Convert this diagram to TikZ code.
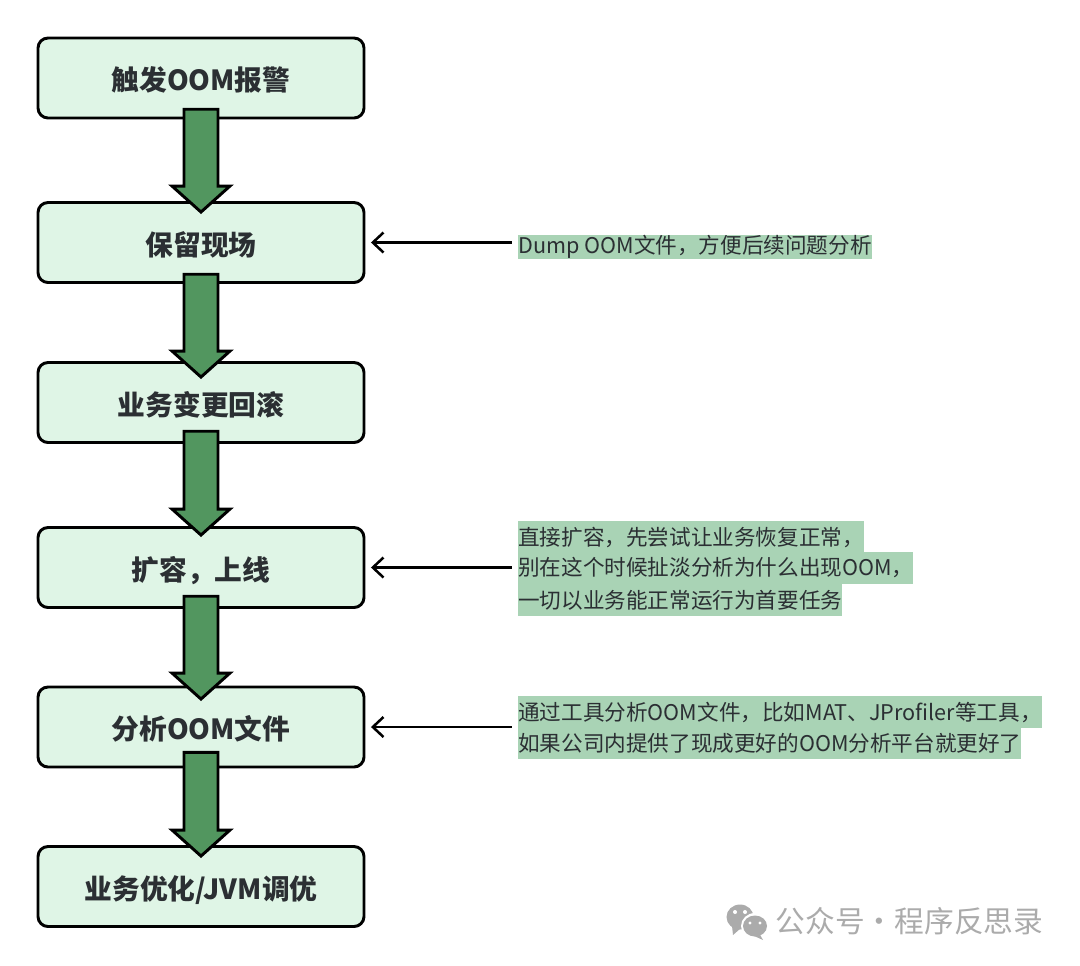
\documentclass[tikz,border=0pt]{standalone}
\usepackage{fontspec}
\setmainfont{Noto Sans CJK SC}
\usetikzlibrary{arrows.meta}
\usetikzlibrary{calc}
\definecolor{boxfill}{HTML}{DFF5E6}
\definecolor{arrowfill}{HTML}{52965F}
\definecolor{markfill}{HTML}{A9D3B5}
\definecolor{inktext}{HTML}{2B2F33}
\definecolor{wmgrey}{HTML}{ABABAB}
\tikzset{
  stepbox/.style={draw=black, line width=2.2pt, fill=boxfill, rounded corners=7.5pt, minimum width=244.5pt, minimum height=60pt, inner sep=0pt, text=inktext, text height=20pt, text depth=1.2pt, font=\fontsize{20.8}{21}\selectfont\bfseries},
  notemark/.style={fill=markfill, anchor=west, inner sep=0pt, minimum height=23.6pt, text=inktext, font=\fontsize{16.2}{17}\selectfont},
  bigarrow/.style 2 args={draw=black, line width=2.2pt, fill=arrowfill, line join=miter, to path={
    ($(\tikztostart)+(-17,#1)$) -- ($(\tikztotarget)+(-17,#2-26)$) -- ($(\tikztotarget)+(-29,#2-26)$) -- ($(\tikztotarget)+(0,#2)$)
    -- ($(\tikztotarget)+(29,#2-26)$) -- ($(\tikztotarget)+(17,#2-26)$) -- ($(\tikztostart)+(17,#1)$) -- cycle}},
  notearrow/.style={draw=black, line width=1.9pt, {Straight Barb[length=8pt,width=15pt,line width=1.9pt]}-},
}
\begin{document}
\begin{tikzpicture}[x=0.75pt, y=-0.75pt]
\useasboundingbox (0,0) rectangle (1080,965);

\node[stepbox] (alarm) at (201,78) {触发OOM报警};
\node[stepbox] (keep) at (201,242.5) {保留现场};
\node[stepbox] (rollback) at (201,402.5) {业务变更回滚};
\node[stepbox] (scale) at (201,567.5) {扩容，上线};
\node[stepbox] (analyse) at (201,727) {分析OOM文件};
\node[stepbox] (tune) at (201,886.5) {业务优化/JVM调优};

\draw[bigarrow={-10.2}{11}] (alarm.south) to (keep.north);
\draw[bigarrow={-9.7}{16}] (keep.south) to (rollback.north);
\draw[bigarrow={-12.7}{9}] (rollback.south) to (scale.north);
\draw[bigarrow={-12.7}{13.5}] (scale.south) to (analyse.north);
\draw[bigarrow={-16.2}{11}] (analyse.south) to (tune.north);

\node[notemark, minimum height=18.5pt] (dumpnote) at (518,247) {Dump OOM文件，方便后续问题分析};

\node[notemark] (scalenotea) at (518,537) {直接扩容，先尝试让业务恢复正常，};
\node[notemark] (scalenoteb) at (518,568) {别在这个时候扯淡分析为什么出现OOM，};
\node[notemark] (scalenotec) at (518,600) {一切以业务能正常运行为首要任务};

\node[notemark] (analysenotea) at (518,712) {通过工具分析OOM文件，比如MAT、JProfiler等工具，};
\node[notemark] (analysenoteb) at (518,743) {如果公司内提供了现成更好的OOM分析平台就更好了};

\draw[notearrow] ($(keep.east)+(5.5,0)$) -- ($(keep.east -| dumpnote.west)+(-6,0)$);
\draw[notearrow] ($(scale.east)+(5.5,0)$) -- ($(scale.east -| scalenoteb.west)+(-6,0)$);
\draw[notearrow] ($(analyse.east)+(5.5,0)$) -- ($(analyse.east -| analysenotea.west)+(-6,0)$);

% watermark
\fill[wmgrey] (740,917) ellipse (13.5 and 12.5);
\fill[wmgrey] (732,926) -- (733,935) -- (741,928) -- cycle;
\fill[white] (755,926) ellipse (14 and 13);
\fill[wmgrey] (755,926) ellipse (12 and 10.5);
\fill[wmgrey] (759,933) -- (763,940) -- (752,935) -- cycle;
\fill[white] (735,912) circle (2) (745,912) circle (2) (750,923) circle (1.6) (760,923) circle (1.6);
\node[anchor=west, inner sep=0pt, text=wmgrey, font=\fontsize{22.3}{23}\selectfont] (wmtext) at (775.5,921) {公众号·程序反思录};
\end{tikzpicture}
\end{document}
